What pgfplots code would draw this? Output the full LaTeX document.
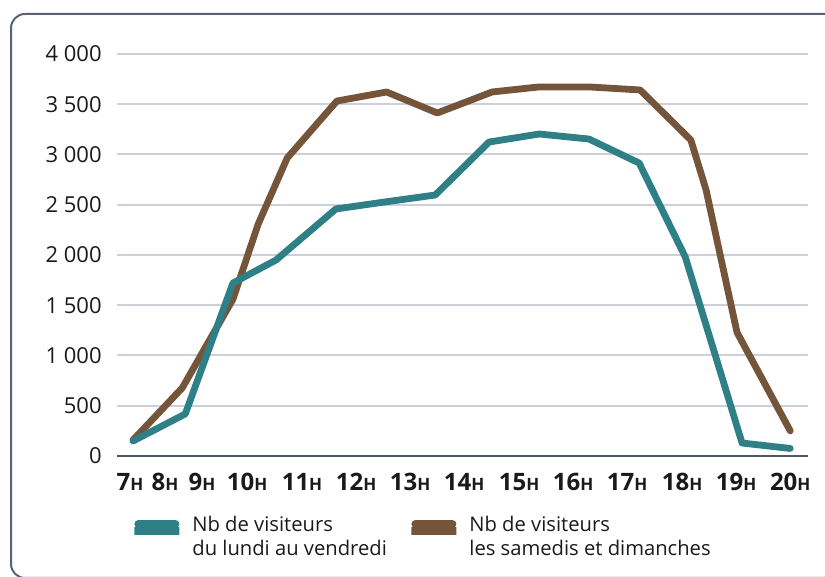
\documentclass[border=0pt]{standalone}
\usepackage{pgfplots}
\pgfplotsset{compat=1.18}
\usepackage{fontspec}
\setmainfont{Open Sans}
\definecolor{teal1}{HTML}{2E7F86}
\definecolor{brown1}{HTML}{74553A}
\definecolor{gridc}{HTML}{CDD0D9}
\definecolor{axisc}{HTML}{505668}
\definecolor{framec}{HTML}{5A6274}
\definecolor{txt}{HTML}{1A1A1A}
\newcommand{\hh}[1]{\textbf{#1{\fontsize{8.5}{8.5}\selectfont H}}}
\begin{document}
\begin{tikzpicture}[x=0.5pt,y=0.5pt]
\path[use as bounding box] (0,0) rectangle (825,577);
\begin{scope}
\clip (0,0) rectangle (825,577);
\draw[framec, line width=1pt, rounded corners=7pt] (11,563) rectangle (850,-1);
\end{scope}
\begin{axis}[
  at={(58.5pt,60.5pt)}, anchor=south west,
  scale only axis, width=345.5pt, height=201pt,
  xmin=6.684, xmax=20.31, ymin=0, ymax=4000,
  clip=false,
  axis line style={draw=none},
  major tick length=0pt,
  ymajorgrids,
  grid style={gridc, line width=1pt},
  ytick={500,1000,1500,2000,2500,3000,3500,4000},
  yticklabels={500,1 000,1 500,2 000,2 500,3 000,3 500,4 000},
  extra y ticks={0}, extra y tick labels={0},
  extra y tick style={grid style={axisc, line width=1.1pt}},
  yticklabel style={font=\fontsize{11}{13}\selectfont, text=txt, inner xsep=0pt, xshift=-7.5pt},
  xtick={6.941,7.631,8.361,9.249,10.333,11.398,12.464,13.529,14.613,15.679,16.744,17.828,18.893,19.959},
  xticklabels={\hh{7},\hh{8},\hh{9},\hh{10},\hh{11},\hh{12},\hh{13},\hh{14},\hh{15},\hh{16},\hh{17},\hh{18},\hh{19},\hh{20}},
  xticklabel style={font=\fontsize{12}{14}\selectfont, text=txt, inner ysep=0pt, yshift=-8.5pt},
  legend columns=2,
  legend style={draw=none, fill=none, at={(0.0188,-0.144)}, anchor=north west, inner sep=0pt,
    font=\fontsize{10.1}{12}\selectfont, text=txt,
    nodes={inner sep=0pt},
    cells={anchor=base west},
    /tikz/every odd column/.append style={column sep=4.5pt}},
  legend image code/.code={\path (0pt,0pt) rectangle (22.5pt,0pt); \draw[#1, line cap=round] (2pt,3.5pt) -- (20.5pt,3.5pt);},
]
\addlegendimage{teal1, line width=4pt}
\addlegendentry{\begin{tabular}[t]{@{}p{107.5pt}@{}}Nb de visiteurs\\du lundi au vendredi\end{tabular}}
\addlegendimage{brown1, line width=4pt}
\addlegendentry{\begin{tabular}[t]{@{}l@{}}Nb de visiteurs\\les samedis et dimanches\end{tabular}}
\addplot[forget plot, brown1, line width=3.4pt, line cap=round, line join=round] coordinates {
(7,159) (7.97,677) (8.97,1560) (9.47,2310) (10.04,2965) (11.02,3532) (12.0,3622) (13.0,3413)
(14.08,3622) (15.0,3672) (16.0,3672) (17.0,3642) (18.0,3144) (18.3,2647) (18.91,1230) (19.96,250)};
\addplot[forget plot, teal1, line width=3.4pt, line cap=round, line join=round] coordinates {
(7,149) (8.03,418) (8.97,1721) (9.82,1950) (11.0,2458) (12.0,2530) (12.96,2597) (14.02,3124)
(15.01,3204) (15.99,3154) (16.98,2915) (17.89,1980) (19.01,129) (19.96,75)};
\end{axis}
\end{tikzpicture}
\end{document}
